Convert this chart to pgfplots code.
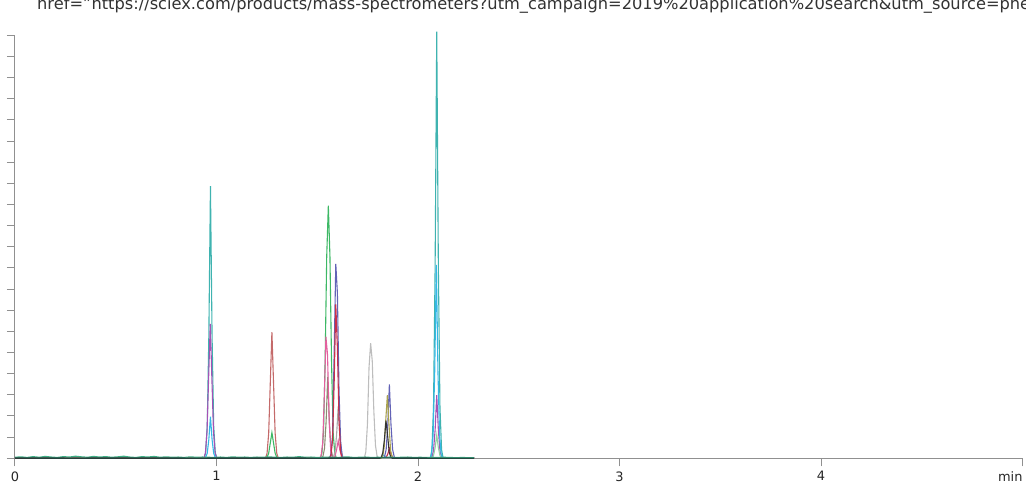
\documentclass[border=0pt]{standalone}
\usepackage{fontspec}
\setmainfont{DejaVu Sans}
\usepackage{pgfplots}
\pgfplotsset{compat=1.18}

\definecolor{cteal}{HTML}{3FB3B0}
\definecolor{ccyan}{HTML}{35B8E6}
\definecolor{cpurple}{HTML}{A552B5}
\definecolor{cbrown}{HTML}{C46A6A}
\definecolor{cgreen}{HTML}{3DB865}
\definecolor{clgreen}{HTML}{92D2A4}
\definecolor{cpink}{HTML}{E2609E}
\definecolor{colivegray}{HTML}{8C8C72}
\definecolor{cslate}{HTML}{6262B6}
\definecolor{ccrimson}{HTML}{C8304A}
\definecolor{clgray}{HTML}{A8A8A8}
\definecolor{cgray}{HTML}{BDBDBD}
\definecolor{colive}{HTML}{A9A24E}
\definecolor{cblack}{HTML}{333333}
\definecolor{cnoise}{HTML}{3EAF86}
\definecolor{cdark}{HTML}{1E4A42}
\definecolor{caxis}{HTML}{909090}

\begin{document}
\begin{tikzpicture}[x=1bp,y=1bp]
\begin{axis}[
    at={(0,0)}, anchor=south west,
    scale only axis,
    width=1007.5bp, height=423bp,
    xmin=0, xmax=5,
    ymin=0, ymax=20,
    clip=false,
    axis lines=left,
    axis line style={-, caxis, line width=1bp},
    tick style={caxis, line width=1bp},
    tick align=outside,
    major tick length=8bp,
    xtick={0,1,2,3,4,5},
    xticklabels={0,1,2,3,4,\llap{min}},
    ytick={0,1,...,20},
    yticklabels={},
    xticklabel style={font=\fontsize{13}{15}\selectfont, text=black!85, anchor=north, inner sep=0pt, yshift=-5bp},
    every axis plot/.append style={line width=1.1bp, no marks},
]

% teal
\addplot[cteal] coordinates {
  (0,0)(0.938,0)(0.946,0.26)(0.954,1.54)(0.962,5.79)(0.970,12.87)(0.978,5.79)(0.986,1.54)(0.994,0.26)(1.002,0)
  (2.061,0)(2.069,0.40)(2.077,2.42)(2.085,9.08)(2.093,20.17)(2.101,9.08)(2.109,2.42)(2.117,0.40)(2.125,0)(2.278,0)
};
% purple
\addplot[cpurple] coordinates {
  (0,0)(0.937,0)(0.945,0.25)(0.953,1.27)(0.961,3.81)(0.969,6.35)(0.977,3.81)(0.985,1.27)(0.993,0.25)(1.001,0)
  (2.061,0)(2.069,0.06)(2.077,0.36)(2.085,1.35)(2.093,2.99)(2.101,1.35)(2.109,0.36)(2.117,0.06)(2.125,0)(2.278,0)
};
% cyan
\addplot[ccyan] coordinates {
  (0,0)(0.938,0)(0.946,0.04)(0.954,0.24)(0.962,0.89)(0.970,1.97)(0.978,0.89)(0.986,0.24)(0.994,0.04)(1.002,0)
  (1.810,0)(1.820,0.06)(1.830,0.15)(1.840,0.06)(1.850,0)
  (2.059,0)(2.067,0.18)(2.075,1.10)(2.083,4.11)(2.091,9.14)(2.099,4.11)(2.107,1.10)(2.115,0.18)(2.123,0)(2.278,0)
};
% brown
\addplot[cbrown] coordinates {
  (0,0)(1.243,0)(1.251,0.24)(1.259,1.19)(1.267,3.58)(1.275,5.97)(1.283,3.58)(1.291,1.19)(1.299,0.24)(1.307,0)(2.278,0)
};
% green
\addplot[cgreen] coordinates {
  (0,0)(1.243,0)(1.251,0.05)(1.259,0.24)(1.267,0.73)(1.275,1.21)(1.283,0.73)(1.291,0.24)(1.299,0.05)(1.307,0)
  (1.515,0)(1.523,0.24)(1.531,1.19)(1.539,4.54)(1.547,9.55)(1.555,11.94)(1.563,9.55)(1.571,4.54)(1.579,1.19)(1.587,0.24)(1.595,0)(2.278,0)
};
% light green
\addplot[clgreen] coordinates {
  (0,0)(2.069,0)(2.077,0.13)(2.085,0.50)(2.093,1.10)(2.101,0.50)(2.109,0.13)(2.117,0)(2.278,0)
};
% olive gray
\addplot[colivegray] coordinates {
  (0,0)(1.520,0)(1.528,0.08)(1.536,0.46)(1.544,1.74)(1.552,3.86)(1.560,1.74)(1.568,0.46)(1.576,0.08)(1.584,0)(2.278,0)
};
% pink
\addplot[cpink] coordinates {
  (0,0)(1.511,0)(1.519,0.12)(1.527,0.69)(1.535,2.90)(1.543,5.75)(1.551,4.90)(1.559,1.80)(1.567,0.35)(1.575,0)
  (1.580,0)(1.588,0.10)(1.596,0.40)(1.604,0.83)(1.612,0.40)(1.620,0.10)(1.628,0)(2.278,0)
};
% light gray
\addplot[clgray] coordinates {
  (0,0)(1.572,0)(1.580,0.05)(1.588,0.29)(1.596,1.10)(1.604,2.45)(1.612,1.10)(1.620,0.29)(1.628,0.05)(1.636,0)(2.278,0)
};
% slate blue
\addplot[cslate] coordinates {
  (0,0)(1.560,0)(1.568,0.18)(1.576,1.10)(1.584,5.00)(1.592,9.19)(1.600,7.80)(1.608,3.20)(1.616,0.80)(1.624,0.10)(1.632,0)
  (1.826,0)(1.834,0.07)(1.842,0.42)(1.850,1.58)(1.858,3.50)(1.866,1.58)(1.874,0.42)(1.882,0.07)(1.890,0)(2.278,0)
};
% crimson
\addplot[ccrimson] coordinates {
  (0,0)(1.560,0)(1.568,0.15)(1.576,0.87)(1.584,3.60)(1.592,7.28)(1.600,5.20)(1.608,1.80)(1.616,0.30)(1.624,0)
  (1.834,0)(1.842,0.05)(1.850,0.20)(1.858,0.47)(1.866,0.20)(1.874,0.05)(1.882,0)(2.278,0)
};
% gray
\addplot[cgray] coordinates {
  (0,0)(1.733,0)(1.741,0.30)(1.749,1.60)(1.757,4.30)(1.765,5.44)(1.773,4.60)(1.781,2.20)(1.789,0.60)(1.797,0.10)(1.805,0)(2.278,0)
};
% olive
\addplot[colive] coordinates {
  (0,0)(1.816,0)(1.824,0.06)(1.832,0.50)(1.840,1.80)(1.848,2.99)(1.856,1.60)(1.864,0.36)(1.872,0.06)(1.880,0)(2.278,0)
};
% black
\addplot[cblack] coordinates {
  (0,0)(1.809,0)(1.817,0.04)(1.825,0.25)(1.833,0.85)(1.841,1.78)(1.849,1.10)(1.857,0.30)(1.865,0.05)(1.873,0)(2.278,0)
};
% baseline noise
\addplot[cnoise] coordinates {
  (0,0.05)(0.03,0.07)(0.06,0.04)(0.09,0.08)(0.12,0.05)(0.15,0.09)(0.18,0.06)(0.21,0.04)(0.24,0.08)(0.27,0.06)
  (0.30,0.10)(0.33,0.07)(0.36,0.05)(0.39,0.09)(0.42,0.06)(0.45,0.08)(0.48,0.05)(0.51,0.07)(0.54,0.10)(0.57,0.06)
  (0.60,0.04)(0.63,0.08)(0.66,0.06)(0.69,0.09)(0.72,0.05)(0.75,0.07)(0.78,0.05)(0.81,0.06)(0.84,0.04)(0.87,0.07)
  (0.90,0.05)(0.93,0.06)(0.96,0.05)(0.99,0.04)(1.02,0.06)(1.05,0.04)(1.08,0.07)(1.11,0.05)(1.14,0.06)(1.17,0.04)
  (1.20,0.06)(1.23,0.05)(1.26,0.07)(1.29,0.05)(1.32,0.04)(1.35,0.06)(1.38,0.05)(1.41,0.08)(1.44,0.05)(1.47,0.06)
  (1.50,0.04)(1.53,0.05)(1.56,0.06)(1.59,0.04)(1.62,0.05)(1.65,0.07)(1.68,0.04)(1.71,0.05)(1.74,0.06)(1.77,0.04)
  (1.80,0.05)(1.83,0.04)(1.86,0.06)(1.89,0.04)(1.92,0.05)(1.95,0.06)(1.98,0.04)(2.01,0.05)(2.04,0.04)(2.07,0.05)
  (2.10,0.04)(2.13,0.05)(2.16,0.04)(2.19,0.03)(2.22,0.04)(2.25,0.03)(2.278,0.03)
};
\addplot[cdark] coordinates {
  (0,0.02)(0.3,0.01)(0.6,0.02)(0.9,0.01)(1.2,0.02)(1.5,0.01)(1.8,0.02)(2.1,0.01)(2.278,0.01)
};
\end{axis}
\node[anchor=base west, inner sep=0pt, text=black!80, font=\fontsize{16.3}{18}\selectfont]
  at (22bp,449bp) {href="https://sciex.com/products/mass-spectrometers?utm\_campaign=2019\%20application\%20search\&utm\_source=phenomenex};
\pgfresetboundingbox
\path[use as bounding box] (-15bp,-25bp) rectangle (1011bp,458.3bp);
\end{tikzpicture}
\end{document}
